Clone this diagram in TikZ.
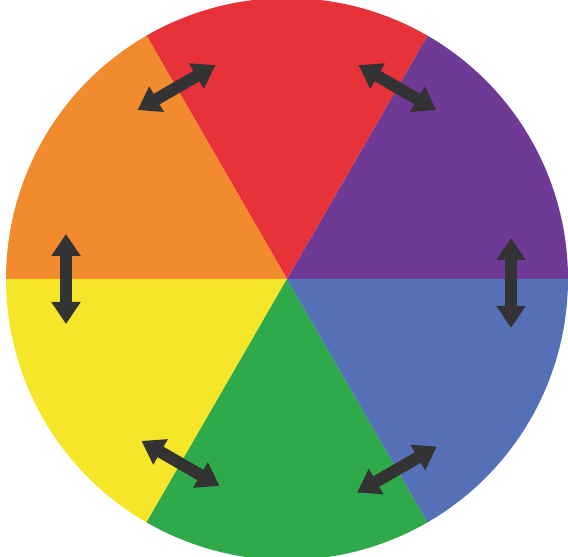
\documentclass[tikz,border=0pt]{standalone}
\usepackage{xcolor}
\usepackage{tikz}
\usetikzlibrary{arrows.meta, calc}

\definecolor{wheelred}{HTML}{E8323A}
\definecolor{wheelorange}{HTML}{F28A2E}
\definecolor{wheelyellow}{HTML}{F6E62A}
\definecolor{wheelgreen}{HTML}{2EAA4A}
\definecolor{wheelblue}{HTML}{5670B8}
\definecolor{wheelpurple}{HTML}{6E3A96}
\definecolor{arrowgray}{HTML}{333333}

\begin{document}
\begin{tikzpicture}[
    x=1pt, y=1pt,
    sector/.style = {draw=none},
    swap/.style   = {draw=arrowgray, line width=12pt,
                     {Triangle[width=28pt, length=22pt]}-{Triangle[width=28pt, length=22pt]}}
]
\useasboundingbox (0,0) rectangle (568,557);

% ---- Centre of the wheel ----
\coordinate (c) at (287,278);

% ---- Six sectors ----
\fill[wheelpurple] (c) -- ++(0:281)   arc (0:60:281)    -- cycle;
\fill[wheelred]    (c) -- ++(60:281)  arc (60:120:281)  -- cycle;
\fill[wheelorange] (c) -- ++(120:281) arc (120:180:281) -- cycle;
\fill[wheelyellow] (c) -- ++(180:281) arc (180:240:281) -- cycle;
\fill[wheelgreen]  (c) -- ++(240:281) arc (240:300:281) -- cycle;
\fill[wheelblue]   (c) -- ++(300:281) arc (300:360:281) -- cycle;

% ---- Arrow ends, on the sector borders ----
\coordinate (ro1) at ($(c)+(120:221)+(210:45)$);
\coordinate (ro2) at ($(c)+(120:221)+(30:45)$);
\coordinate (rp1) at ($(c)+(60:221)+(150:45)$);
\coordinate (rp2) at ($(c)+(60:221)+(-30:45)$);
\coordinate (oy1) at ($(c)+(180:221)+(90:45)$);
\coordinate (oy2) at ($(c)+(180:221)+(270:45)$);
\coordinate (pb1) at ($(c)+(-1:224)+(90:45)$);
\coordinate (pb2) at ($(c)+(-1:224)+(270:45)$);
\coordinate (yg1) at ($(c)+(240:213)+(150:45)$);
\coordinate (yg2) at ($(c)+(240:213)+(-30:45)$);
\coordinate (gb1) at ($(c)+(300:220)+(210:46)$);
\coordinate (gb2) at ($(c)+(300:220)+(30:46)$);

% ---- Double arrows ----
\draw[swap] (ro1) -- (ro2);
\draw[swap] (rp1) -- (rp2);
\draw[swap] (oy1) -- (oy2);
\draw[swap] (pb1) -- (pb2);
\draw[swap] (yg1) -- (yg2);
\draw[swap] (gb1) -- (gb2);

\end{tikzpicture}
\end{document}
